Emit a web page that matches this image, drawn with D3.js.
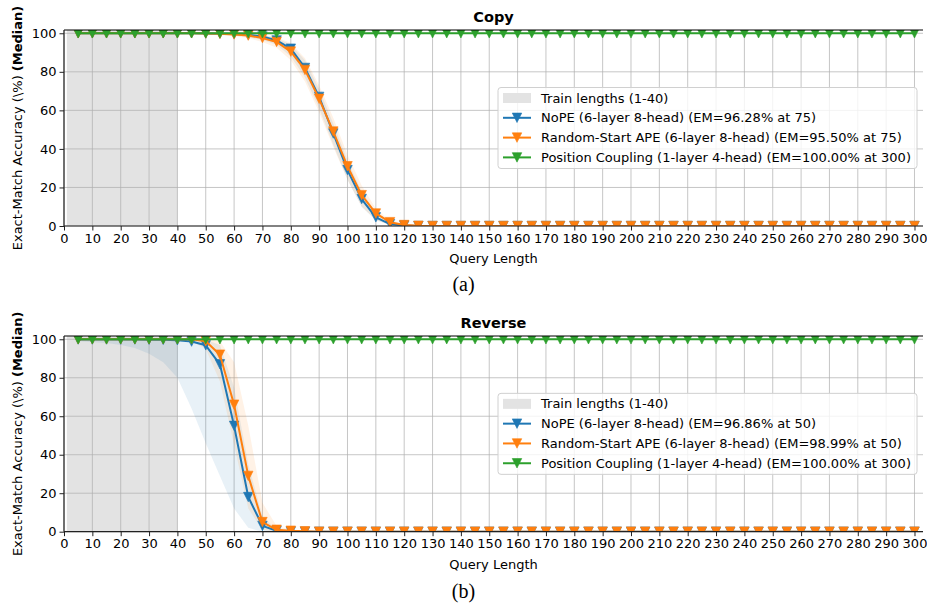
<!DOCTYPE html>
<html>
<head>
<meta charset="utf-8">
<script src="https://cdn.jsdelivr.net/npm/d3@7"></script>
<style>
  html, body { margin: 0; padding: 0; background: #fff; }
  svg { display: block; }
</style>
</head>
<body>
<div id="chart"></div>
<script>
// ---------------- DATA ----------------
const queryLengths = [5,10,15,20,25,30,35,40,45,50,55,60,65,70,75,80,85,90,95,100,
  105,110,115,120,125,130,135,140,145,150,155,160,165,170,175,180,185,190,195,200,
  205,210,215,220,225,230,235,240,245,250,255,260,265,270,275,280,285,290,295,300];
const xTicks = [0,10,20,30,40,50,60,70,80,90,100,110,120,130,140,150,160,170,180,190,200,
  210,220,230,240,250,260,270,280,290,300];
const yTicks = [0,20,40,60,80,100];
const trainRange = [1, 40];

// Copy task
const copyNoPE = [100,100,100,100,100,100,100,100,100,99.9,99.8,99.6,99.2,98.3,96.28,92,82,67,48,29,
  14,4.5,1,0.2,0,0,0,0,0,0,0,0,0,0,0,0,0,0,0,0,
  0,0,0,0,0,0,0,0,0,0,0,0,0,0,0,0,0,0,0,0];
const copyRS = [100,100,100,100,100,100,100,100,100,99.9,99.7,99.4,98.8,97.5,95.5,90.5,81,66,49,31,
  16,6.5,2,0.5,0.1,0,0,0,0,0,0,0,0,0,0,0,0,0,0,0,
  0,0,0,0,0,0,0,0,0,0,0,0,0,0,0,0,0,0,0,0];
const copyPC = [100,100,100,100,100,100,100,100,100,100,100,100,100,100,100,100,100,100,100,100,
  100,100,100,100,100,100,100,100,100,100,100,100,100,100,100,100,100,100,100,100,
  100,100,100,100,100,100,100,100,100,100,100,100,100,100,100,100,100,100,100,100];
const copyBandX = [50,55,60,65,70,75,80,85,90,95,100,105,110,115,120,125,130];
const copyNoPELo = [99.5,99.2,98.8,98,96.5,94,88,77,61,42,24,10,3,0.5,0,0,0];
const copyNoPEHi = [100,100,99.9,99.6,99,97.5,94,86,71,53,34,18,7,2,0.6,0.1,0];
const copyRSLo = [99.4,99,98.5,97.5,95.5,92.5,86,75,59,41,24,10,3,0.6,0,0,0];
const copyRSHi = [100,100,99.9,99.7,99.2,98,95,87,73,56,37,21,9,3,1,0.3,0];

// Reverse task
const revNoPE = [99.9,99.9,99.9,99.9,99.9,99.8,99.7,99.5,98.8,96.86,87,55,18,3,0.5,0.1,0,0,0,0,
  0,0,0,0,0,0,0,0,0,0,0,0,0,0,0,0,0,0,0,0,
  0,0,0,0,0,0,0,0,0,0,0,0,0,0,0,0,0,0,0,0];
const revRS = [100,100,100,100,100,100,100,100,100,98.99,92,66,29,5,1,0.5,0.2,0,0,0,
  0,0,0,0,0,0,0,0,0,0,0,0,0,0,0,0,0,0,0,0,
  0,0,0,0,0,0,0,0,0,0,0,0,0,0,0,0,0,0,0,0];
const revPC = copyPC;
const revNoPEBandX = [5,10,15,20,25,30,35,40,45,50,55,60,65,70,75,80];
const revNoPELo = [99,98.5,98,97,95.5,92.5,88,80,64,46,29,12,2,0,0,0];
const revNoPEHi = [100,100,100,100,100,100,100,100,100,99.8,97,75,35,8,1,0];
const revRSBandX = [40,45,50,55,60,65,70,75,80,85,90];
const revRSLo = [100,99,95,78,45,12,1,0,0,0,0];
const revRSHi = [100,100,100,99,88,55,15,3,1,0.3,0];

const seriesNames = ["NoPE", "Random-Start APE", "Position Coupling"];
const copyLegend = ["NoPE (6-layer 8-head) (EM=96.28% at 75)",
  "Random-Start APE (6-layer 8-head) (EM=95.50% at 75)",
  "Position Coupling (1-layer 4-head) (EM=100.00% at 300)"];
const revLegend = ["NoPE (6-layer 8-head) (EM=96.86% at 50)",
  "Random-Start APE (6-layer 8-head) (EM=98.99% at 50)",
  "Position Coupling (1-layer 4-head) (EM=100.00% at 300)"];
const trainLegend = "Train lengths (1-40)";
const colors = ["#1f77b4", "#ff7f0e", "#2ca02c"];

// ---------------- DRAW ----------------
const W = 927, H = 604;
const FONT = "'DejaVu Sans', sans-serif";
const svg = d3.select("#chart").append("svg").attr("width", W).attr("height", H);

const defs = svg.append("defs");

function trianglePath(s) {
  const h = s / 2;
  return `M0,${h}L${-h},${-h}L${h},${-h}Z`;
}

function panel(opts) {
  const { id, top, bottom, title, caption, captionY, lines, bands, legend } = opts;
  const left = 64, right = 923;
  const x = d3.scaleLinear().domain([0, 303]).range([left, right]);
  const y = d3.scaleLinear().domain([0, 101.7]).range([bottom, top]);
  const g = svg.append("g");

  defs.append("clipPath").attr("id", "clip" + id)
    .append("rect").attr("x", left).attr("y", top).attr("width", right - left).attr("height", bottom - top);

  // training shade
  g.append("rect").attr("x", x(trainRange[0])).attr("y", top)
    .attr("width", x(trainRange[1]) - x(trainRange[0])).attr("height", bottom - top)
    .attr("fill", "#e3e3e3");

  // grid
  const grid = g.append("g");
  grid.selectAll("line.gx").data(xTicks).join("line")
    .attr("x1", d => x(d)).attr("x2", d => x(d)).attr("y1", top).attr("y2", bottom)
    .attr("stroke", "#b0b0b0").attr("stroke-width", 0.9).attr("stroke-opacity", 0.8);
  grid.selectAll("line.gy").data(yTicks).join("line")
    .attr("x1", left).attr("x2", right).attr("y1", d => y(d)).attr("y2", d => y(d))
    .attr("stroke", "#b0b0b0").attr("stroke-width", 0.9).attr("stroke-opacity", 0.8);

  const plot = g.append("g").attr("clip-path", `url(#clip${id})`);

  // bands
  bands.forEach(b => {
    const pts = b.x.map((xv, i) => ({ x: xv, lo: b.lo[i], hi: b.hi[i] }));
    plot.append("path").datum(pts)
      .attr("d", d3.area().x(d => x(d.x)).y0(d => y(d.lo)).y1(d => y(d.hi)))
      .attr("fill", b.color).attr("fill-opacity", 0.1);
  });

  // lines + markers
  lines.forEach(l => {
    const pts = queryLengths.map((q, i) => ({ x: q, v: l.values[i] }));
    plot.append("path").datum(pts)
      .attr("d", d3.line().x(d => x(d.x)).y(d => y(d.v)))
      .attr("fill", "none").attr("stroke", l.color).attr("stroke-width", 2)
      .attr("stroke-linejoin", "round");
    plot.append("g").selectAll("path").data(pts).join("path")
      .attr("transform", d => `translate(${x(d.x)},${y(d.v)})`)
      .attr("d", trianglePath(9.5))
      .attr("fill", l.color).attr("stroke", l.color).attr("stroke-width", 0.6);
  });

  // spines
  g.append("line").attr("x1", left).attr("x2", right).attr("y1", top).attr("y2", top)
    .attr("stroke", "#000").attr("stroke-width", 1.2);

  // axes
  const xAxis = d3.axisBottom(x).tickValues(xTicks).tickSize(4.5).tickPadding(3);
  const ax = g.append("g").attr("transform", `translate(0,${bottom})`).call(xAxis);
  const yAxis = d3.axisLeft(y).tickValues(yTicks).tickSize(4.5).tickPadding(3);
  const ay = g.append("g").attr("transform", `translate(${left},0)`).call(yAxis);
  [ax, ay].forEach(a => {
    a.select(".domain").attr("stroke", "#222").attr("stroke-width", 1.2);
    a.selectAll(".tick line").attr("stroke", "#222").attr("stroke-width", 1);
    a.selectAll(".tick text").attr("font-family", FONT).attr("font-size", 13).attr("fill", "#000");
  });
  ax.select(".domain").attr("d", `M${left},0H${right}`);
  ay.select(".domain").attr("d", `M0,${bottom}V${top}`);

  // title
  g.append("text").attr("x", (left + right) / 2).attr("y", top - 8)
    .attr("text-anchor", "middle").attr("font-family", FONT).attr("font-size", 14.5)
    .attr("font-weight", "bold").text(title);

  // x label
  g.append("text").attr("x", (left + right) / 2).attr("y", bottom + 37)
    .attr("text-anchor", "middle").attr("font-family", FONT).attr("font-size", 13)
    .text("Query Length");

  // y label
  const yl = g.append("text")
    .attr("transform", `translate(22,${(top + bottom) / 2}) rotate(-90)`)
    .attr("text-anchor", "middle").attr("font-family", FONT).attr("font-size", 13);
  yl.append("tspan").text("Exact-Match Accuracy (\\%) ");
  yl.append("tspan").attr("font-weight", "bold").text("(Median)");

  // caption
  svg.append("text").attr("x", W / 2).attr("y", captionY)
    .attr("text-anchor", "middle").attr("font-family", "'Liberation Serif', 'Times New Roman', serif")
    .attr("font-size", 20).text(caption);

  // legend
  const lgW = 419, lgH = 81;
  const lgX = right - 6 - lgW, lgY = (top + bottom) / 2 - lgH / 2;
  const lg = g.append("g").attr("transform", `translate(${lgX},${lgY})`);
  lg.append("rect").attr("width", lgW).attr("height", lgH).attr("rx", 3)
    .attr("fill", "#fff").attr("fill-opacity", 0.8).attr("stroke", "#d0d0d0").attr("stroke-width", 1);
  const rowY = i => 10.5 + i * 19.8;
  lg.append("rect").attr("x", 5).attr("y", rowY(0) - 5).attr("width", 28).attr("height", 10)
    .attr("fill", "#e3e3e3");
  lg.append("text").attr("x", 43).attr("y", rowY(0)).attr("dy", "0.35em")
    .attr("font-family", FONT).attr("font-size", 13).text(trainLegend);
  legend.forEach((t, i) => {
    const yy = rowY(i + 1);
    lg.append("line").attr("x1", 5).attr("x2", 33).attr("y1", yy).attr("y2", yy)
      .attr("stroke", colors[i]).attr("stroke-width", 2);
    lg.append("path").attr("transform", `translate(19,${yy})`).attr("d", trianglePath(9.5))
      .attr("fill", colors[i]).attr("stroke", colors[i]).attr("stroke-width", 0.6);
    lg.append("text").attr("x", 43).attr("y", yy).attr("dy", "0.35em")
      .attr("font-family", FONT).attr("font-size", 13).text(t);
  });
}

panel({
  id: "a", top: 30, bottom: 226, title: "Copy", caption: "(a)", captionY: 291,
  lines: [
    { values: copyNoPE, color: colors[0] },
    { values: copyRS, color: colors[1] },
    { values: copyPC, color: colors[2] }
  ],
  bands: [
    { x: copyBandX, lo: copyNoPELo, hi: copyNoPEHi, color: colors[0] },
    { x: copyBandX, lo: copyRSLo, hi: copyRSHi, color: colors[1] }
  ],
  legend: copyLegend
});

panel({
  id: "b", top: 336, bottom: 531.7, title: "Reverse", caption: "(b)", captionY: 598,
  lines: [
    { values: revNoPE, color: colors[0] },
    { values: revRS, color: colors[1] },
    { values: revPC, color: colors[2] }
  ],
  bands: [
    { x: revNoPEBandX, lo: revNoPELo, hi: revNoPEHi, color: colors[0] },
    { x: revRSBandX, lo: revRSLo, hi: revRSHi, color: colors[1] }
  ],
  legend: revLegend
});
</script>
</body>
</html>
